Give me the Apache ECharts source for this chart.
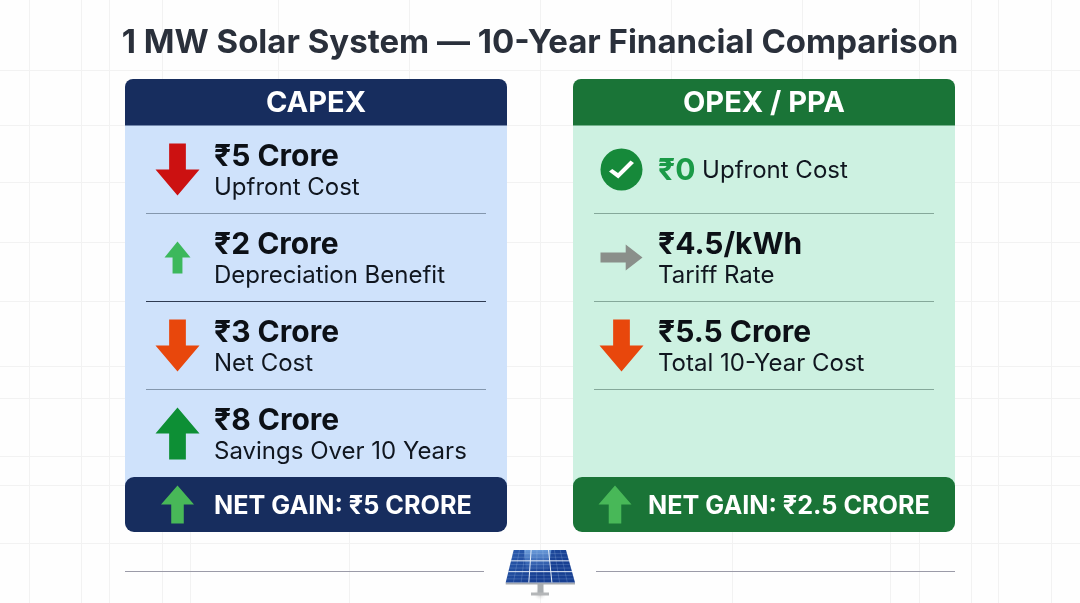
<!DOCTYPE html>
<html lang="en">
<head>
    <meta charset="UTF-8">
    <title>1 MW Solar System</title>
    <style>
        html, body { margin: 0; padding: 0; background: #fefefe; }
    </style>
</head>
<body>
<div id="main" style="width:1080px;height:603px;"></div>
<script src="https://cdn.jsdelivr.net/npm/echarts@6/dist/echarts.min.js"></script>
<script type="text/javascript">
    // data (crore / rupees)
    var titleText = '1 MW Solar System — 10-Year Financial Comparison';
    var panelNames = ['CAPEX', 'OPEX / PPA'];

    var capexValues = [5, 2, 3, 8];
    var capexUnits = [' Crore', ' Crore', ' Crore', ' Crore'];
    var capexLabels = ['Upfront Cost', 'Depreciation Benefit', 'Net Cost', 'Savings Over 10 Years'];

    var opexValues = [0, 4.5, 5.5];
    var opexUnits = ['', '/kWh', ' Crore'];
    var opexLabels = ['Upfront Cost', 'Tariff Rate', 'Total 10-Year Cost'];

    var netGainValues = [5, 2.5];

    var myChart = echarts.init(document.getElementById('main'));
    var FONT = 'Inter';

    // arrow shapes, stretched to the symbol box
    var UP = 'path://M50 0 L100 50 L69 50 L69 100 L31 100 L31 50 L0 50 Z';
    var DOWN = 'path://M31 0 L69 0 L69 50 L100 50 L50 100 L0 50 L31 50 Z';
    var RIGHT = 'path://M0 31 L60 31 L60 0 L100 50 L60 100 L60 69 L0 69 Z';
    var CHECK = 'path://M0 55 L13 42 L36 62 L86 0 L100 12 L37 90 Z';

    var capexIcons = [
        {symbol: DOWN, size: [44, 52], color: '#cc1111'},
        {symbol: UP, size: [26, 32], color: '#3cb85c'},
        {symbol: DOWN, size: [44, 52], color: '#e8470c'},
        {symbol: UP, size: [44, 52], color: '#0d8f35'}
    ];
    var opexIcons = [
        {symbol: 'circle', size: [42, 42], color: '#16893a'},
        {symbol: RIGHT, size: [42, 26], color: '#8a8f8a'},
        {symbol: DOWN, size: [44, 52], color: '#e8470c'}
    ];

    var graphics = [];

    // faint paper grid behind everything
    var gridColor = '#f2f2f2';
    var fullVerticals = [29, 81, 109, 162, 540, 919, 971, 998, 1051];
    var topVerticals = [278, 409, 671, 802];
    var bottomVerticals = [190, 349, 732, 890];
    var horizontals = [70, 125, 182, 242, 301, 366, 398, 456, 485, 543];

    function addLine(x1, y1, x2, y2, color, width) {
        graphics.push({
            type: 'line',
            silent: true,
            shape: {x1: x1, y1: y1, x2: x2, y2: y2},
            style: {stroke: color, lineWidth: width}
        });
    }

    fullVerticals.forEach(function (x) { addLine(x + .5, 0, x + .5, 603, gridColor, 1); });
    topVerticals.forEach(function (x) { addLine(x + .5, 0, x + .5, 80, gridColor, 1); });
    bottomVerticals.forEach(function (x) { addLine(x + .5, 530, x + .5, 603, gridColor, 1); });
    horizontals.forEach(function (y) { addLine(0, y + .5, 1080, y + .5, gridColor, 1); });

    // the two panels
    var panels = [
        {x: 125, head: '#172d5e', body: '#cfe2fb'},
        {x: 573, head: '#1a7437', body: '#cdf1e1'}
    ];
    panels.forEach(function (p, i) {
        graphics.push({type: 'rect', shape: {x: p.x, y: 125, width: 382, height: 400}, style: {fill: p.body}});
        graphics.push({type: 'rect', shape: {x: p.x, y: 79, width: 382, height: 46.5, r: [8, 8, 0, 0]}, style: {fill: p.head}});
        graphics.push({type: 'rect', shape: {x: p.x, y: 477, width: 382, height: 55, r: 9}, style: {fill: p.head}});
        graphics.push({
            type: 'text',
            style: {
                x: p.x + 191, y: 103.5, text: panelNames[i], fill: '#ffffff',
                font: 'bold 29px ' + FONT, textAlign: 'center', textVerticalAlign: 'middle'
            }
        });
    });

    // bottom rule with the solar panel in the middle
    addLine(125, 571.5, 484, 571.5, '#9b9ba8', 1.2);
    addLine(596, 571.5, 955, 571.5, '#9b9ba8', 1.2);

    function pt(u, v) {
        // u,v in 0..1 on the tilted module
        var left = 513.7 - 8 * v, right = 566 + 9 * v;
        return [left + (right - left) * u, 550 + 32.5 * v];
    }

    graphics.push({
        type: 'ellipse',
        shape: {cx: 540, cy: 594, rx: 30, ry: 7},
        style: {
            fill: new echarts.graphic.RadialGradient(.5, .5, .5, [
                {offset: 0, color: 'rgba(120,120,120,.45)'},
                {offset: 1, color: 'rgba(255,255,255,0)'}
            ])
        }
    });
    graphics.push({type: 'rect', shape: {x: 537.5, y: 584, width: 6, height: 9}, style: {fill: '#a9adb0'}});
    graphics.push({type: 'rect', shape: {x: 531, y: 592.5, width: 18, height: 3}, style: {fill: '#b4b6b8'}});
    graphics.push({
        type: 'polygon',
        shape: {points: [[505.7, 582.5], [575, 582.5], [575, 584.5], [505.7, 584.5]]},
        style: {fill: '#a6aab0'}
    });
    graphics.push({
        type: 'polygon',
        shape: {points: [pt(0, 0), pt(1, 0), pt(1, 1), pt(0, 1)]},
        style: {
            fill: new echarts.graphic.LinearGradient(0, 0, .3, 1, [
                {offset: 0, color: '#2f5fb0'},
                {offset: 1, color: '#173f92'}
            ])
        }
    });
    // lighter sheen across the centre of the module
    graphics.push({
        type: 'polygon',
        shape: {points: [pt(.2, 0), pt(.72, 0), pt(.62, .7), pt(.28, .7)]},
        style: {
            fill: new echarts.graphic.LinearGradient(0, 0, 0, 1, [
                {offset: 0, color: 'rgba(130,180,235,.75)'},
                {offset: 1, color: 'rgba(90,140,215,.0)'}
            ])
        }
    });
    var cellLine = 'rgba(190,215,245,.4)';
    for (var c = 1; c < 9; c++) {
        if (c % 3) addPanelLine(c / 9, 0, c / 9, 1, cellLine, .5);
    }
    for (var r = 1; r < 9; r++) {
        if (r % 3) addPanelLine(0, r / 9, 1, r / 9, cellLine, .5);
    }
    for (var k = 1; k < 3; k++) {
        addPanelLine(k / 3, 0, k / 3, 1, '#e6eef8', 1);
        addPanelLine(0, k / 3, 1, k / 3, '#e6eef8', 1);
    }

    function addPanelLine(u1, v1, u2, v2, color, width) {
        var a = pt(u1, v1), b = pt(u2, v2);
        addLine(a[0], a[1], b[0], b[1], color, width);
    }

    // rows are laid out on hidden axes, one grid per panel and one for each net gain bar
    var gridBoxes = [
        {left: 146, top: 125.5, width: 340, height: 352},
        {left: 594, top: 125.5, width: 340, height: 352},
        {left: 146, top: 477, width: 340, height: 55},
        {left: 594, top: 477, width: 340, height: 55}
    ];
    var rowDividers = [
        ['#8497ad', '#2f3b52', '#8497ad'],
        ['#85a89a', '#85a89a', '#85a89a']
    ];
    var rowNames = [capexLabels, opexLabels.concat(['']), ['net'], ['net']];

    var xAxes = gridBoxes.map(function (b, i) {
        return {gridIndex: i, type: 'value', min: 0, max: 340, show: false};
    });
    var yAxes = gridBoxes.map(function (b, i) {
        return {
            gridIndex: i,
            type: 'category',
            inverse: true,
            data: rowNames[i],
            z: 3,
            axisLine: {show: false},
            axisTick: {show: false},
            axisLabel: {show: false},
            splitLine: {
                show: i < 2,
                showMinLine: false,
                showMaxLine: false,
                lineStyle: {color: i < 2 ? rowDividers[i] : '#000', width: 1}
            }
        };
    });

    var textRich = {
        v: {fontFamily: FONT, fontWeight: 'bold', fontSize: 30, color: '#0c1016', lineHeight: 32},
        s: {fontFamily: FONT, fontWeight: 400, fontSize: 24, color: '#10161f', lineHeight: 30},
        g: {fontFamily: FONT, fontWeight: 'bold', fontSize: 30, color: '#1a9a47', lineHeight: 31}
    };

    function rupee(v) { return '₹' + v; }

    function iconSeries(gridIndex, iconX, icons) {
        return {
            type: 'scatter',
            xAxisIndex: gridIndex,
            yAxisIndex: gridIndex,
            silent: true,
            clip: false,
            data: icons.map(function (ic, i) {
                return {
                    value: [iconX, i],
                    symbol: ic.symbol,
                    symbolSize: ic.size,
                    itemStyle: {color: ic.color, opacity: 1}
                };
            })
        };
    }

    function textSeries(gridIndex, textX, values, units, labels) {
        return {
            type: 'scatter',
            xAxisIndex: gridIndex,
            yAxisIndex: gridIndex,
            silent: true,
            symbolSize: 1,
            itemStyle: {color: 'rgba(0,0,0,0)', opacity: 1},
            data: values.map(function (v, i) {
                return {value: [textX, i], label: {offset: [0, v === 0 ? 1 : 2.5]}};
            }),
            label: {
                show: true,
                position: 'right',
                distance: 0,
                rich: textRich,
                formatter: function (p) {
                    var i = p.dataIndex;
                    if (values[i] === 0) {
                        return '{g|' + rupee(values[i]) + '}{s| ' + labels[i] + '}';
                    }
                    return '{v|' + rupee(values[i]) + units[i] + '}\n{s|' + labels[i] + '}';
                }
            }
        };
    }

    function netSeries(gridIndex, iconX, textX, value) {
        return [
            {
                type: 'scatter',
                xAxisIndex: gridIndex,
                yAxisIndex: gridIndex,
                silent: true,
                symbol: UP,
                symbolSize: [33, 38],
                itemStyle: {color: '#48b858', opacity: 1},
                data: [[iconX, 0]]
            },
            {
                type: 'scatter',
                xAxisIndex: gridIndex,
                yAxisIndex: gridIndex,
                silent: true,
                symbolSize: 1,
                itemStyle: {color: 'rgba(0,0,0,0)', opacity: 1},
                data: [[textX, 0]],
                label: {
                    show: true,
                    position: 'right',
                    distance: 0,
                    offset: [0, 1.5],
                    fontFamily: FONT,
                    fontWeight: 'bold',
                    fontSize: 25.2,
                    color: '#ffffff',
                    formatter: 'NET GAIN: ' + rupee(value) + ' CRORE'
                }
            }
        ];
    }

    var seriesArr = [
        iconSeries(0, 31.5, capexIcons),
        textSeries(0, 67.5, capexValues, capexUnits, capexLabels),
        iconSeries(1, 27.5, opexIcons),
        // white tick on the green circle
        {
            type: 'scatter',
            xAxisIndex: 1,
            yAxisIndex: 1,
            silent: true,
            z: 4,
            symbol: CHECK,
            symbolSize: [25, 18],
            itemStyle: {color: '#ffffff', opacity: 1},
            data: [[27.5, 0]]
        },
        textSeries(1, 63.5, opexValues, opexUnits, opexLabels)
    ].concat(netSeries(2, 31.5, 67.5, netGainValues[0]), netSeries(3, 21, 53.5, netGainValues[1]));

    var option = {
        backgroundColor: '#fefefe',
        animation: false,
        title: {
            text: titleText,
            left: 'center',
            top: 22,
            textStyle: {fontFamily: FONT, fontWeight: 'bold', fontSize: 33, color: '#2a303b'}
        },
        graphic: {elements: graphics},
        grid: gridBoxes,
        xAxis: xAxes,
        yAxis: yAxes,
        series: seriesArr
    };
    myChart.setOption(option);
</script>
</body>
</html>
